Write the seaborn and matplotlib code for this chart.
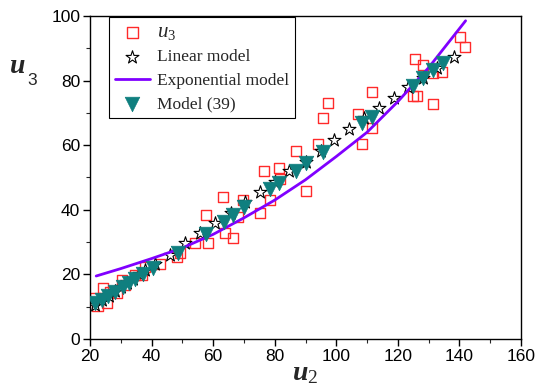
import numpy as np
import pandas as pd
import matplotlib
matplotlib.use("Agg")
import matplotlib.pyplot as plt
from matplotlib.ticker import MultipleLocator
import seaborn as sns

# Observed u3 against u2
obs_u2 = [21.6, 22.5, 24.2, 25.5, 26.5, 28.8, 30.4, 31.4, 34.6, 36.9, 37.9, 42.7,
          48.3, 49.2, 54.1, 58.3, 57.7, 63.2, 63.8, 66.4, 68.1, 69.7, 75.2, 76.5,
          78.5, 81.4, 81.7, 86.9, 90.2, 94.0, 95.7, 97.3, 107.0, 108.3, 111.6,
          111.6, 125.6, 124.9, 126.2, 128.2, 131.4, 131.4, 134.3, 140.2, 141.8]
obs_u3 = [12.7, 10.4, 15.8, 11.1, 14.6, 14.2, 18.3, 16.7, 19.8, 19.8, 22.3, 23.2,
          25.4, 26.6, 29.7, 29.7, 38.4, 44.0, 32.8, 31.3, 37.8, 43.0, 39.0, 52.0,
          43.0, 52.9, 49.5, 58.2, 45.8, 60.4, 68.4, 73.1, 69.7, 60.4, 65.3,
          76.5, 86.7, 75.2, 75.2, 84.8, 82.4, 72.8, 82.7, 93.5, 90.4]

# Linear model predictions
lin_u2 = [21.6, 24.0, 26.0, 28.0, 30.0, 32.0, 34.0, 36.0, 38.0, 41.1, 46.0, 50.9,
          55.7, 60.6, 65.8, 70.3, 75.2, 80.1, 84.6, 90.2, 95.0, 99.2, 104.1,
          109.0, 113.9, 118.7, 123.3, 128.2, 132.7, 138.2]
lin_u3 = [10.5, 12.1, 13.4, 14.8, 16.1, 17.4, 18.7, 20.0, 21.3, 23.2, 26.0, 29.7,
          32.8, 35.9, 39.0, 42.4, 45.5, 48.6, 52.0, 54.8, 58.2, 61.6, 65.0,
          68.4, 71.5, 74.6, 78.0, 80.8, 84.0, 87.3]

# Exponential model curve
exp_u2 = [22, 30, 40, 50, 60, 70, 80, 90, 100, 110, 120, 130, 142]
exp_u3 = [19.5, 21.8, 24.9, 28.2, 32.4, 37.5, 43.0, 49.3, 56.5, 64.0, 73.5, 84.0, 98.5]

# Model (39) predictions
m39_u2 = [21.6, 23.9, 25.8, 28.1, 30.7, 32.5, 34.6, 37.2, 40.5, 48.6, 57.7, 63.5,
          66.4, 70.0, 78.5, 81.4, 86.9, 90.2, 95.7, 108.3, 111.6, 124.9, 128.2,
          131.4, 134.6]
m39_u3 = [11.1, 12.1, 13.3, 14.6, 16.1, 17.2, 18.6, 20.1, 22.0, 26.6, 32.5, 36.2,
          38.4, 40.9, 46.4, 48.3, 52.0, 54.5, 57.9, 66.9, 68.7, 78.3, 80.8,
          83.3, 85.4]

sns.set_theme(style="ticks")
plt.rcParams["font.family"] = ["Liberation Sans", "DejaVu Sans"]
plt.rcParams["mathtext.fontset"] = "custom"
plt.rcParams["mathtext.rm"] = "Liberation Serif"
plt.rcParams["mathtext.it"] = "Liberation Serif:italic"
plt.rcParams["mathtext.bf"] = "Liberation Serif:bold:italic"

fig = plt.figure(figsize=(5.36, 3.89), dpi=100)
ax = fig.add_axes([0.168, 0.1285, 0.804, 0.8305])

df_obs = pd.DataFrame({"u2": obs_u2, "u3": obs_u3})
df_lin = pd.DataFrame({"u2": lin_u2, "u3": lin_u3})
df_exp = pd.DataFrame({"u2": exp_u2, "u3": exp_u3})
df_m39 = pd.DataFrame({"u2": m39_u2, "u3": m39_u3})

sns.scatterplot(data=df_obs, x="u2", y="u3", ax=ax, marker="s", s=58,
                facecolor="none", edgecolor="#ff2a2a", linewidth=1.0,
                label=r"$u_3$", zorder=2)
sns.scatterplot(data=df_lin, x="u2", y="u3", ax=ax, marker="*", s=95,
                facecolor="white", edgecolor="black", linewidth=0.8,
                label="Linear model", zorder=3)
sns.lineplot(data=df_exp, x="u2", y="u3", ax=ax, color="#8000ff", linewidth=2.0,
             label="Exponential model", zorder=4)
sns.scatterplot(data=df_m39, x="u2", y="u3", ax=ax, marker="v", s=110,
                color="#0f7f7f", edgecolor="#0f7f7f", linewidth=0.5,
                label="Model (39)", zorder=5)

ax.set_xlim(20, 160)
ax.set_ylim(0, 100)
ax.xaxis.set_major_locator(MultipleLocator(20))
ax.xaxis.set_minor_locator(MultipleLocator(10))
ax.yaxis.set_major_locator(MultipleLocator(20))
ax.yaxis.set_minor_locator(MultipleLocator(10))
ax.tick_params(which="major", direction="out", length=5, width=1.0,
               labelsize=12.5, pad=2, colors="black")
ax.tick_params(which="minor", direction="out", length=3, width=0.8)
for sp in ax.spines.values():
    sp.set_visible(True)
    sp.set_linewidth(1.0)
    sp.set_color("black")

# Axis titles: bold italic serif variable with a plain subscript
ax.set_xlabel("")
ax.set_ylabel("")
fig.text(0.569, 0.024, r"$\mathbf{u}_2$", fontsize=20, ha="center", va="baseline")
fig.text(0.033, 0.812, "u", fontsize=20, family="Liberation Serif",
         weight="bold", style="italic", ha="center", va="baseline")
fig.text(0.051, 0.782, "3", fontsize=12.5, family="Liberation Sans",
         ha="left", va="baseline")

leg = ax.legend(loc="upper left", bbox_to_anchor=(0.044, 0.997), frameon=True,
                fancybox=False, edgecolor="black", framealpha=1,
                prop={"family": "Liberation Serif", "size": 12.5},
                labelspacing=0.42, handlelength=2.0, handletextpad=0.4,
                borderpad=0.35, borderaxespad=0)
leg.get_frame().set_linewidth(0.8)
leg.get_texts()[0].set_fontsize(15)

fig.savefig("out.png", dpi=100)
